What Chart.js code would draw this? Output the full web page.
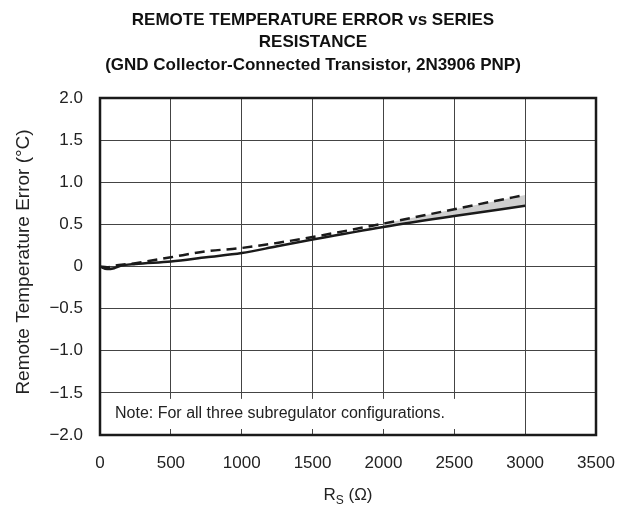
<!DOCTYPE html>
<html>
<head>
<meta charset="utf-8">
<script src="https://cdn.jsdelivr.net/npm/chart.js@4/dist/chart.umd.min.js"></script>
<style>
  html, body { margin: 0; padding: 0; background: #fff; }
  #wrap { width: 626px; height: 510px; }
</style>
</head>
<body>
<div id="wrap"><canvas id="chart" width="626" height="510"></canvas></div>
<script>
// series resistance (ohm)
const resistance = [0, 50, 100, 150, 250, 500, 750, 1000, 1250, 1500, 2000, 2500, 3000];
// solid curve
const errorSolid = [0, -0.03, -0.02, 0.01, 0.03, 0.06, 0.11, 0.16, 0.24, 0.32, 0.47, 0.60, 0.72];
// dashed curve
const errorDashed = [0, -0.01, 0.01, 0.02, 0.04, 0.11, 0.18, 0.22, 0.28, 0.35, 0.51, 0.68, 0.85];
// shaded band starts here
const bandStart = 2000;

const xTicks = [0, 500, 1000, 1500, 2000, 2500, 3000, 3500];
const yTicks = [-2, -1.5, -1, -0.5, 0, 0.5, 1, 1.5, 2];

const titleLines = [
    "REMOTE TEMPERATURE ERROR vs SERIES",
    "RESISTANCE",
    "(GND Collector-Connected Transistor, 2N3906 PNP)"
];
const noteText = "Note: For all three subregulator configurations.";
const yTitle = "Remote Temperature Error (\u00B0C)";

const FONT = "'Liberation Sans', Arial, Helvetica, sans-serif";

function toPoints(xs, ys) {
    return xs.map((x, i) => ({ x: x, y: ys[i] }));
}

const bandPoints = toPoints(resistance, errorDashed).filter(p => p.x >= bandStart);

function fmtY(v) {
    if (v === 0) return "0";
    return (v < 0 ? "\u2212" : "") + Math.abs(v).toFixed(1);
}

// title, axis titles, note box and frame
const decorPlugin = {
    id: "decor",
    beforeDatasetsDraw(chart) {
        const { ctx, chartArea, scales } = chart;
        const x = scales.x, y = scales.y;
        // white note box over the grid
        const top = y.getPixelForValue(-1.5) + 6;
        const bottom = chartArea.bottom - 6;
        const right = x.getPixelForValue(3000) - 1;
        ctx.save();
        ctx.fillStyle = "#fff";
        ctx.fillRect(chartArea.left + 1, top, right - chartArea.left - 1, bottom - top);
        ctx.fillStyle = "#222";
        ctx.font = "16px " + FONT;
        ctx.textBaseline = "middle";
        ctx.textAlign = "left";
        ctx.fillText(noteText, chartArea.left + 15, (y.getPixelForValue(-1.5) + chartArea.bottom) / 2);
        ctx.restore();
    },
    afterDatasetsDraw(chart) {
        const { ctx, chartArea } = chart;
        ctx.save();
        ctx.strokeStyle = "#1a1a1a";
        ctx.lineWidth = 2.5;
        ctx.strokeRect(chartArea.left, chartArea.top, chartArea.right - chartArea.left, chartArea.bottom - chartArea.top);
        ctx.restore();
    },
    afterDraw(chart) {
        const { ctx, chartArea } = chart;
        ctx.save();
        ctx.fillStyle = "#111";
        ctx.textAlign = "center";
        ctx.textBaseline = "middle";
        ctx.font = "bold 17px " + FONT;
        const ty = [20, 42, 65];
        titleLines.forEach((t, i) => ctx.fillText(t, 313, ty[i]));

        // y axis title
        ctx.font = "19px " + FONT;
        ctx.fillStyle = "#222";
        ctx.save();
        ctx.translate(24, 262);
        ctx.rotate(-Math.PI / 2);
        ctx.fillText(yTitle, 0, 0);
        ctx.restore();

        // x axis title: R with subscript S
        const cx = (chartArea.left + chartArea.right) / 2;
        const by = 495;
        ctx.textAlign = "left";
        ctx.font = "17px " + FONT;
        const wR = ctx.measureText("R").width;
        const rest = " (\u03A9)";
        const wRest = ctx.measureText(rest).width;
        ctx.font = "12px " + FONT;
        const wS = ctx.measureText("S").width;
        const start = cx - (wR + wS + wRest) / 2;
        ctx.font = "17px " + FONT;
        ctx.fillText("R", start, by);
        ctx.font = "12px " + FONT;
        ctx.fillText("S", start + wR, by + 6);
        ctx.font = "17px " + FONT;
        ctx.fillText(rest, start + wR + wS, by);
        ctx.restore();
    }
};

const ctx = document.getElementById("chart").getContext("2d");

new Chart(ctx, {
    type: "line",
    data: {
        datasets: [
            {
                label: "solid",
                data: toPoints(resistance, errorSolid),
                borderColor: "#1a1a1a",
                borderWidth: 2.5,
                pointRadius: 0,
                cubicInterpolationMode: "monotone",
                fill: false,
                order: 1
            },
            {
                label: "dashed",
                data: toPoints(resistance, errorDashed),
                borderColor: "#1a1a1a",
                borderWidth: 2.5,
                borderDash: [10, 6],
                pointRadius: 0,
                cubicInterpolationMode: "monotone",
                fill: false,
                order: 2
            },
            {
                label: "band",
                data: bandPoints,
                borderWidth: 0,
                borderColor: "rgba(0,0,0,0)",
                backgroundColor: "#cfcfcf",
                pointRadius: 0,
                cubicInterpolationMode: "monotone",
                fill: 0,
                order: 3
            }
        ]
    },
    options: {
        responsive: false,
        animation: false,
        events: [],
        layout: { padding: { top: 98, right: 30, left: 0, bottom: 0 } },
        plugins: {
            legend: { display: false },
            title: { display: false },
            tooltip: { enabled: false },
            filler: { drawTime: "beforeDatasetsDraw" }
        },
        scales: {
            x: {
                type: "linear",
                min: 0,
                max: 3500,
                afterBuildTicks: (s) => { s.ticks = xTicks.map(v => ({ value: v })); },
                afterFit: (s) => { s.height = 75; s.paddingLeft = 0; s.paddingRight = 0; },
                ticks: {
                    color: "#222",
                    font: { size: 17, family: FONT },
                    padding: 18,
                    maxRotation: 0,
                    callback: (v) => String(v)
                },
                grid: { color: "#444", lineWidth: 1, drawTicks: false },
                border: { display: false }
            },
            y: {
                type: "linear",
                min: -2,
                max: 2,
                afterBuildTicks: (s) => { s.ticks = yTicks.map(v => ({ value: v })); },
                afterFit: (s) => { s.width = 100; s.paddingTop = 0; s.paddingBottom = 0; },
                ticks: {
                    color: "#222",
                    font: { size: 17, family: FONT },
                    padding: 17,
                    callback: (v) => fmtY(v)
                },
                grid: { color: "#444", lineWidth: 1, drawTicks: false },
                border: { display: false }
            }
        }
    },
    plugins: [decorPlugin]
});
</script>
</body>
</html>
